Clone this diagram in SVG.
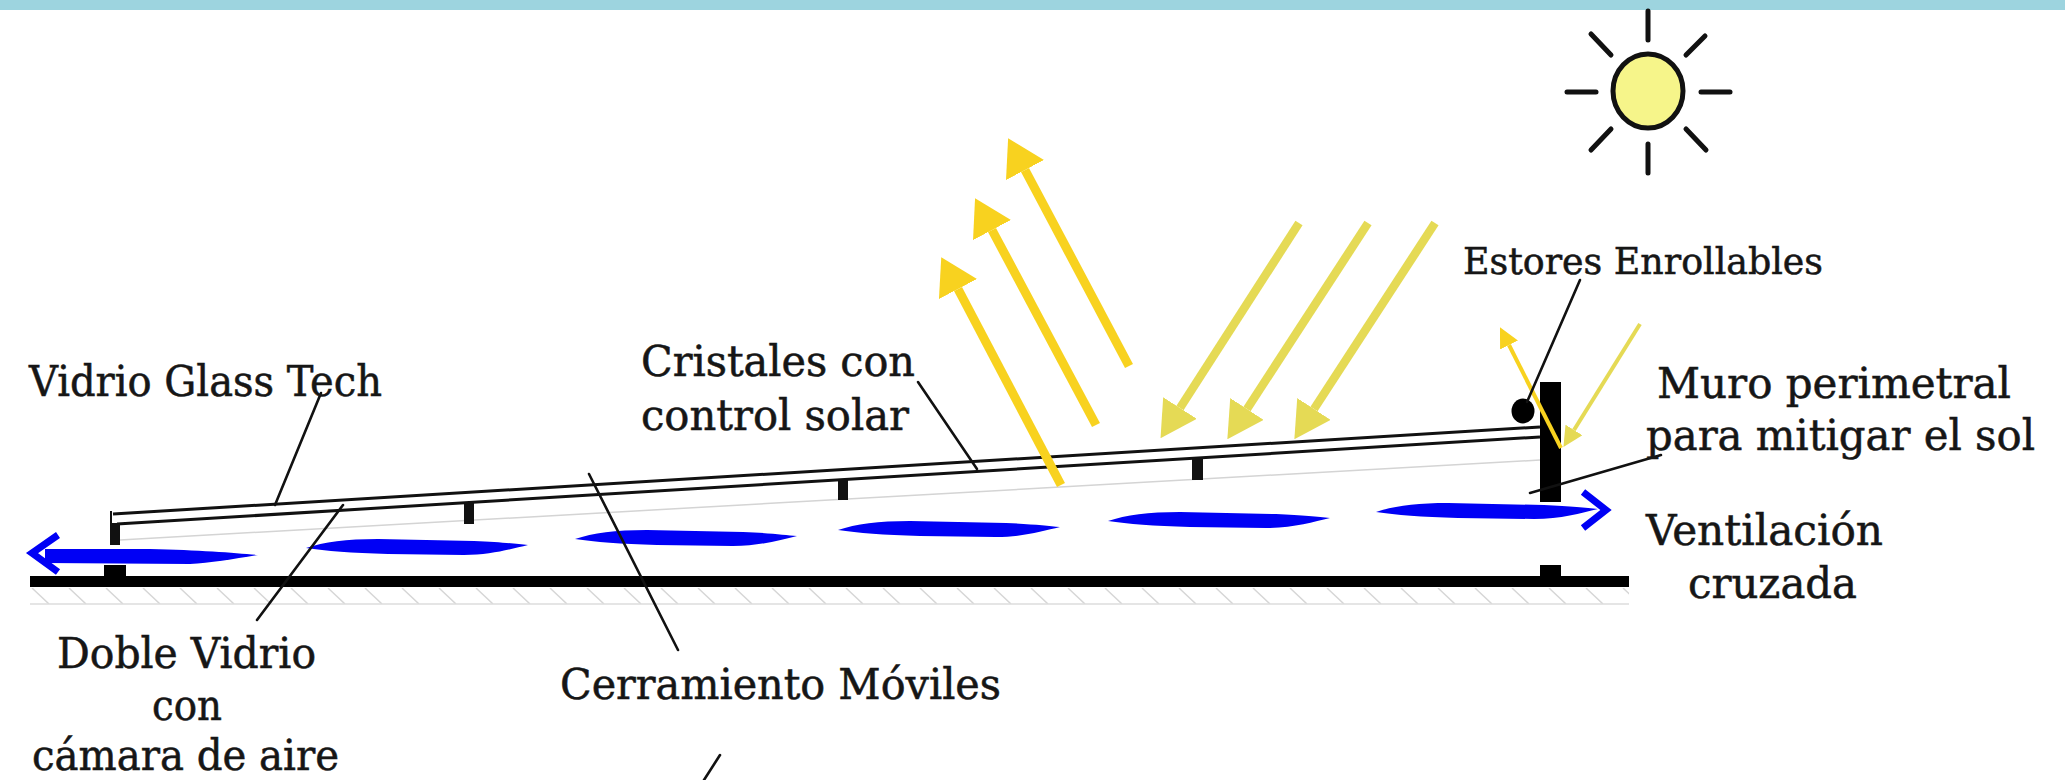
<svg xmlns="http://www.w3.org/2000/svg" width="2065" height="780" viewBox="0 0 2065 780">
  <style>
    .lbl { font-family: "DejaVu Serif Condensed", "DejaVu Serif", "Liberation Serif", serif; font-stretch: condensed; font-size: 42px; fill: #161616; stroke: #161616; stroke-width: 0.5; }
    .lead { stroke: #111; stroke-width: 2.6; fill: none; stroke-linecap: round; }
    .glass { stroke: #111; stroke-width: 3; fill: none; }
    .post { fill: #111; }
    .refl { stroke: #F8D21F; stroke-width: 9; fill: none; }
    .incid { stroke: #E5DA55; stroke-width: 8.5; fill: none; }
    .refl-s { stroke: #F8D21F; stroke-width: 4; fill: none; }
    .incid-s { stroke: #E5DA55; stroke-width: 4; fill: none; }
    .ray { stroke: #111; stroke-width: 5; stroke-linecap: round; }
    .gust { fill: #0000F5; }
    .chev { stroke: #0000F5; stroke-width: 7; fill: none; }
  </style>
  <defs>
    <!-- arrow heads for the solar rays -->
    <marker id="headRefl" viewBox="0 0 36 43" markerUnits="userSpaceOnUse" markerWidth="36" markerHeight="43" refX="0" refY="21.5" orient="auto">
      <path d="M0,0 L36,21.5 L0,43 Z" fill="#F8D21F"/>
    </marker>
    <marker id="headIncid" viewBox="0 0 36 40" markerUnits="userSpaceOnUse" markerWidth="36" markerHeight="40" refX="0" refY="20" orient="auto">
      <path d="M0,0 L36,20 L0,40 Z" fill="#E5DA55"/>
    </marker>
    <marker id="headReflS" viewBox="0 0 20 20" markerUnits="userSpaceOnUse" markerWidth="20" markerHeight="20" refX="0" refY="10" orient="auto">
      <path d="M0,0 L20,10 L0,20 Z" fill="#F8D21F"/>
    </marker>
    <marker id="headIncidS" viewBox="0 0 20 20" markerUnits="userSpaceOnUse" markerWidth="20" markerHeight="20" refX="0" refY="10" orient="auto">
      <path d="M0,0 L20,10 L0,20 Z" fill="#E5DA55"/>
    </marker>
    <!-- one air-flow streak -->
    <path id="gust" d="M0,0 C18,-6 40,-9 72,-9 L168,-7 C195,-6 210,-4 222,-3 C205,1 185,7 158,7 L82,6 C45,5 20,3 0,0 Z"/>
    <!-- ground hatching -->
    <pattern id="hatch" patternUnits="userSpaceOnUse" x="30" y="588" width="37" height="16">
      <line x1="2" y1="0" x2="19" y2="16" stroke="#d6d6d6" stroke-width="1.5"/>
    </pattern>
  </defs>

  <!-- top band -->
  <rect id="band" x="0" y="0" width="2065" height="10" fill="#9DD4DF"/>

  <!-- sun -->
  <g id="sun">
    <line class="ray" x1="1648" y1="11" x2="1648" y2="40"/>
    <line class="ray" x1="1648" y1="144" x2="1648" y2="173"/>
    <line class="ray" x1="1567" y1="92" x2="1596" y2="92"/>
    <line class="ray" x1="1701" y1="92" x2="1730" y2="92"/>
    <line class="ray" x1="1591" y1="34" x2="1611" y2="55"/>
    <line class="ray" x1="1705" y1="36" x2="1686" y2="55"/>
    <line class="ray" x1="1611" y1="129" x2="1591" y2="150"/>
    <line class="ray" x1="1686" y1="129" x2="1706" y2="150"/>
    <ellipse cx="1648" cy="91" rx="35" ry="37" fill="#F6F58A" stroke="#111" stroke-width="5"/>
  </g>

  <!-- ground slab -->
  <g id="ground">
    <rect x="30" y="588" width="1599" height="16" fill="url(#hatch)"/>
    <line x1="30" y1="604" x2="1629" y2="604" stroke="#dcdcdc" stroke-width="1.5"/>
    <rect x="30" y="576" width="1599" height="11" fill="#000"/>
    <rect x="104" y="565" width="22" height="12" fill="#000"/>
    <rect x="1540" y="565" width="21" height="12" fill="#000"/>
  </g>

  <!-- sloped glazed roof -->
  <g id="roof">
    <line x1="120" y1="540" x2="1540" y2="460" stroke="#d4d4d4" stroke-width="1.5"/>
    <line class="glass" x1="113" y1="514" x2="1540" y2="427"/>
    <line class="glass" x1="117" y1="524" x2="1540" y2="437"/>
    <line x1="111" y1="511" x2="111" y2="525" stroke="#111" stroke-width="2"/>
    <rect class="post" x="110" y="523" width="10" height="22"/>
    <rect class="post" x="464" y="503" width="10" height="21"/>
    <rect class="post" x="838" y="479" width="10" height="21"/>
    <rect class="post" x="1192" y="458" width="11" height="22"/>
  </g>

  <!-- perimeter wall and roller blind -->
  <g id="wall">
    <rect x="1540" y="382" width="21" height="120" fill="#000"/>
    <ellipse cx="1523" cy="411" rx="11.5" ry="12.5" fill="#000"/>
  </g>

  <!-- cross ventilation -->
  <g id="ventilation">
    <path class="gust" d="M45,549 L150,549 C200,550 235,553 258,555 C235,559 210,563 190,564 L45,563 Z"/>
    <use href="#gust" class="gust" x="306" y="548"/>
    <use href="#gust" class="gust" x="575" y="539"/>
    <use href="#gust" class="gust" x="838" y="530"/>
    <use href="#gust" class="gust" x="1108" y="521"/>
    <use href="#gust" class="gust" x="1376" y="512"/>
    <polyline class="chev" points="58,535 32,553 58,572"/>
    <polyline class="chev" points="1583,492 1606,510 1583,528"/>
  </g>

  <!-- solar rays -->
  <g id="sunrays">
    <line class="refl" x1="1061" y1="485" x2="958" y2="289" marker-end="url(#headRefl)"/>
    <line class="refl" x1="1096" y1="425" x2="992" y2="230" marker-end="url(#headRefl)"/>
    <line class="refl" x1="1129" y1="366" x2="1025" y2="170" marker-end="url(#headRefl)"/>
    <line class="incid" x1="1299" y1="223" x2="1180" y2="408" marker-end="url(#headIncid)"/>
    <line class="incid" x1="1368" y1="223" x2="1247" y2="409" marker-end="url(#headIncid)"/>
    <line class="incid" x1="1435" y1="223" x2="1314" y2="409" marker-end="url(#headIncid)"/>
    <line class="incid-s" x1="1640" y1="324" x2="1574" y2="430" marker-end="url(#headIncidS)"/>
    <line class="refl-s" x1="1561" y1="448" x2="1509" y2="345" marker-end="url(#headReflS)"/>
  </g>

  <!-- leader lines -->
  <g id="leaders">
    <line class="lead" x1="321" y1="393" x2="275" y2="505"/>
    <line class="lead" x1="918" y1="382" x2="977" y2="469"/>
    <line class="lead" x1="343" y1="505" x2="257" y2="620"/>
    <line class="lead" x1="589" y1="474" x2="678" y2="650"/>
    <line class="lead" x1="720" y1="755" x2="704" y2="780"/>
    <line class="lead" x1="1580" y1="280" x2="1527" y2="402"/>
    <line class="lead" x1="1530" y1="493" x2="1661" y2="455"/>
  </g>

  <!-- labels -->
  <g id="label-vidrio">
    <text class="lbl" x="29" y="396" textLength="353" lengthAdjust="spacingAndGlyphs">Vidrio Glass Tech</text>
  </g>
  <g id="label-cristales">
    <text class="lbl" x="641" y="376" textLength="274" lengthAdjust="spacingAndGlyphs">Cristales con</text>
    <text class="lbl" x="641" y="430" textLength="268" lengthAdjust="spacingAndGlyphs">control solar</text>
  </g>
  <g id="label-estores">
    <text class="lbl" x="1463" y="274" textLength="360" lengthAdjust="spacingAndGlyphs" style="font-size:38px">Estores Enrollables</text>
  </g>
  <g id="label-muro">
    <text class="lbl" x="1657" y="398" textLength="354" lengthAdjust="spacingAndGlyphs">Muro perimetral</text>
    <text class="lbl" x="1646" y="450" textLength="389" lengthAdjust="spacingAndGlyphs">para mitigar el sol</text>
  </g>
  <g id="label-ventilacion">
    <text class="lbl" x="1646" y="545" textLength="237" lengthAdjust="spacingAndGlyphs">Ventilación</text>
    <text class="lbl" x="1688" y="598" textLength="169" lengthAdjust="spacingAndGlyphs">cruzada</text>
  </g>
  <g id="label-doble">
    <text class="lbl" x="57" y="668" textLength="259" lengthAdjust="spacingAndGlyphs">Doble Vidrio</text>
    <text class="lbl" x="152" y="720" textLength="70" lengthAdjust="spacingAndGlyphs">con</text>
    <text class="lbl" x="32" y="770" textLength="307" lengthAdjust="spacingAndGlyphs">cámara de aire</text>
  </g>
  <g id="label-cerramiento">
    <text class="lbl" x="560" y="699" textLength="441" lengthAdjust="spacingAndGlyphs">Cerramiento Móviles</text>
  </g>
</svg>
